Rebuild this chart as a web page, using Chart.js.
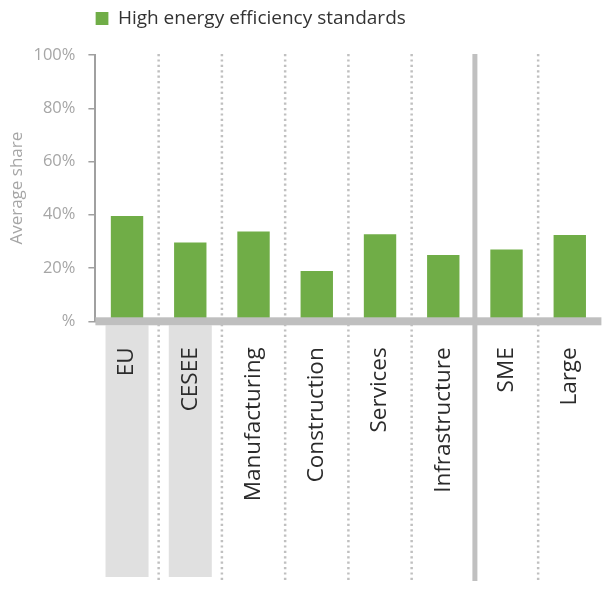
<!DOCTYPE html>
<html>
<head>
<meta charset="utf-8">
<script src="https://cdn.jsdelivr.net/npm/chart.js@4.4.1/dist/chart.umd.min.js"></script>
<style>
html,body{margin:0;padding:0;background:#ffffff;}
#wrap{width:607px;height:589px;position:relative;}
</style>
</head>
<body>
<div id="wrap"><canvas id="c" width="607" height="589"></canvas></div>
<script>
// ---- data ----
const categories = ['EU', 'CESEE', 'Manufacturing', 'Construction', 'Services', 'Infrastructure', 'SME', 'Large'];
const seriesName = 'High energy efficiency standards';
const shareValues = [39.5, 29.6, 33.7, 18.9, 32.7, 24.9, 27.0, 32.4];
const yTickLabels = ['%', '20%', '40%', '60%', '80%', '100%'];
const highlightedCategories = ['EU', 'CESEE'];
const groupBreakAfter = 'Infrastructure';

const FONT = "'Open Sans', 'Noto Sans', sans-serif";
const GREEN = '#70AD47';
const SEP = '#c0c0c0';

const decor = {
  id: 'decor',
  beforeDraw(chart) {
    const ctx = chart.ctx;
    const xs = chart.scales.x, ys = chart.scales.y;
    const area = chart.chartArea;
    const n = categories.length;
    const step = xs.width / n;
    const zero = ys.getPixelForValue(0);
    ctx.save();
    // grey boxes behind highlighted labels
    ctx.fillStyle = '#e0e0e0';
    categories.forEach((c, i) => {
      if (!highlightedCategories.includes(c)) return;
      const cx = xs.getPixelForValue(i);
      const w = step * 0.68;
      ctx.fillRect(cx - w / 2, zero + 4, w, chart.height - 12 - (zero + 4));
    });
    // separators
    for (let i = 0; i < n - 1; i++) {
      const bx = (xs.getPixelForValue(i) + xs.getPixelForValue(i + 1)) / 2;
      ctx.beginPath();
      if (categories[i] === groupBreakAfter) {
        ctx.setLineDash([]);
        ctx.lineWidth = 5;
      } else {
        ctx.setLineDash([2.2, 3.2]);
        ctx.lineWidth = 2.5;
      }
      ctx.strokeStyle = SEP;
      ctx.moveTo(bx, area.top - 1);
      ctx.lineTo(bx, chart.height - 8);
      ctx.stroke();
    }
    ctx.restore();
  },
  afterDatasetsDraw(chart) {
    const ctx = chart.ctx;
    const ys = chart.scales.y;
    const area = chart.chartArea;
    const zero = ys.getPixelForValue(0);
    ctx.save();
    ctx.fillStyle = '#bfbfbf';
    ctx.fillRect(area.left, zero - 4, area.right - area.left, 8);
    ctx.restore();
  }
};

new Chart(document.getElementById('c'), {
  type: 'bar',
  data: {
    labels: categories,
    datasets: [{
      label: seriesName,
      data: shareValues,
      backgroundColor: GREEN,
      borderWidth: 0,
      barPercentage: 0.512,
      categoryPercentage: 1.0
    }]
  },
  plugins: [decor],
  options: {
    responsive: false,
    animation: false,
    devicePixelRatio: 1,
    layout: { padding: { top: 9, right: 5.6, bottom: 0, left: 0 } },
    plugins: {
      tooltip: { enabled: false },
      legend: {
        position: 'top',
        align: 'start',
        fullSize: false,
        labels: {
          boxWidth: 13,
          boxHeight: 13,
          padding: 0,
          color: '#333333',
          font: { family: FONT, size: 19 }
        }
      },
      title: {
        display: true,
        text: '',
        weight: 500,
        position: 'top',
        font: { size: 1, lineHeight: 1 },
        padding: { top: 16, bottom: 0 }
      }
    },
    scales: {
      x: {
        grid: { display: false, drawTicks: false },
        border: { display: false },
        ticks: {
          color: '#2b2b2b',
          font: { family: FONT, size: 22.5 },
          minRotation: 90,
          maxRotation: 90,
          autoSkip: false,
          padding: 26
        },
        afterFit(scale) {
          scale.height = 267.7;
          scale.paddingLeft = 0;
          scale.paddingRight = 0;
        }
      },
      y: {
        min: 0,
        max: 100,
        ticks: {
          stepSize: 20,
          color: '#a6a6a6',
          font: { family: FONT, size: 16.5 },
          padding: 13,
          callback: (v) => yTickLabels[Math.round(v / 20)]
        },
        grid: { drawOnChartArea: false, drawTicks: true, tickLength: 7, color: '#a0a0a0', lineWidth: 1.5 },
        border: { display: true, color: '#a0a0a0', width: 2 },
        title: {
          display: true,
          text: 'Average share',
          color: '#a6a6a6',
          font: { family: FONT, size: 17 },
          padding: { top: 7, bottom: 0 }
        },
        afterFit(scale) { scale.width = 95.4; }
      }
    }
  }
});
</script>
</body>
</html>
